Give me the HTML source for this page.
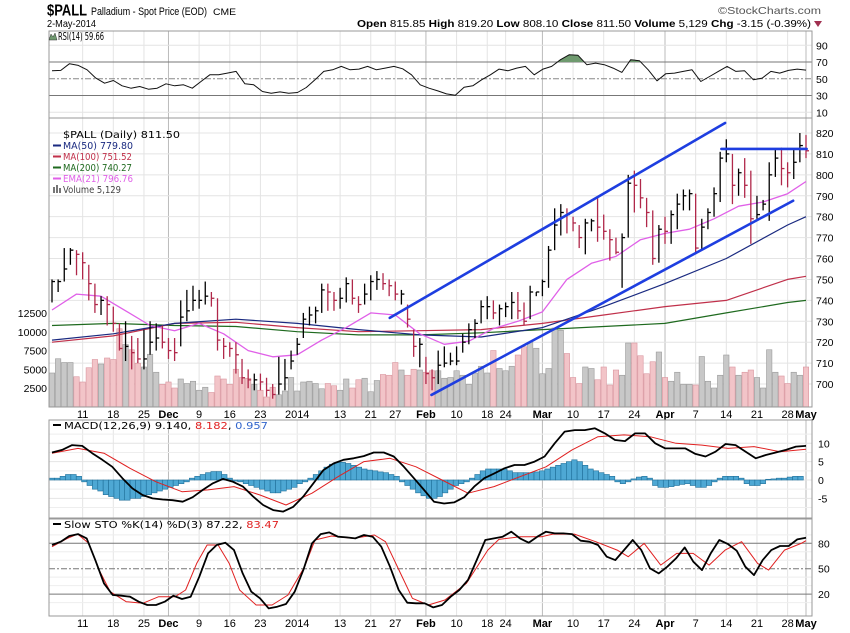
<!DOCTYPE html>
<html><head><meta charset="utf-8"><style>
html,body{margin:0;padding:0;background:#fff;}
svg{display:block;font-family:"Liberation Sans",sans-serif;}
</style></head><body>
<svg id="chart" width="850" height="633" viewBox="0 0 850 633" xmlns="http://www.w3.org/2000/svg">
<g>
<text x="47" y="15.5" font-size="15.5" font-weight="bold" textLength="40" lengthAdjust="spacingAndGlyphs">$PALL</text>
<text x="91" y="15" font-size="11" textLength="116" lengthAdjust="spacingAndGlyphs">Palladium - Spot Price (EOD)</text>
<text x="213" y="15" font-size="9" textLength="23" lengthAdjust="spacingAndGlyphs">CME</text>
<text x="47" y="27" font-size="10.5" textLength="49" lengthAdjust="spacingAndGlyphs">2-May-2014</text>
<text x="718" y="14" font-size="10.5" fill="#555" textLength="103" lengthAdjust="spacingAndGlyphs">©StockCharts.com</text>
<text x="357" y="27" font-size="10.5" textLength="454" lengthAdjust="spacingAndGlyphs"><tspan font-weight="bold">Open</tspan> 815.85 <tspan font-weight="bold">High</tspan> 819.20 <tspan font-weight="bold">Low</tspan> 808.10 <tspan font-weight="bold">Close</tspan> 811.50 <tspan font-weight="bold">Volume</tspan> 5,129 <tspan font-weight="bold">Chg</tspan> -3.15 (-0.39%)</text>
<path d="M814 21 L822 21 L818 27 Z" fill="#a03050"/>
</g>
<g id="layer"></g>
</svg>
<script>
// ---- data ----
const hi = [750,750,765,765,764,763,757,748,742,742,737,729,730,723,722,726,730,729,728,
722,722,740,745,747,745,749,744,741,722,720,720,712,707,705,705,703,700,713,712,716,
722,734,737,737,748,748,744,746,751,750,742,748,752,754,753,750,749,745,738,726,722,713,
707,716,718,715,718,724,729,731,740,742,740,738,739,744,744,739,747,744,750,766,784,786,784,780,776,779,779,789,781,774,770,772,800,802,798,789,783,776,780,783,791,793,793,791,779,784,794,811,817,810,803,808,802,790,788,806,812,813,806,812,820,819];
const lo = [739,744,749,757,752,750,740,734,733,728,725,716,711,707,710,707,714,716,717,
712,711,718,730,735,736,738,737,716,712,713,705,700,698,697,697,694,693,695,697,707,
714,722,728,729,734,735,735,736,739,738,734,738,740,745,745,742,740,738,727,713,708,700,
697,700,708,709,709,715,719,722,729,731,731,728,732,731,731,728,731,742,742,746,764,771,772,773,765,762,773,768,769,759,762,746,770,782,784,775,757,758,767,767,774,783,783,762,764,774,780,787,806,786,790,789,767,779,783,778,799,795,794,798,806,808];
const cl = [749,749,755,764,762,758,748,738,740,738,729,717,718,715,712,712,720,722,720,
716,715,732,735,740,740,742,741,721,718,717,714,703,702,702,701,697,695,700,703,711,
719,731,733,735,745,744,740,741,748,741,738,743,749,750,748,747,743,743,731,718,719,705,
703,709,710,711,711,720,726,729,737,737,734,736,737,739,735,730,744,744,749,764,776,782,781,777,770,777,778,775,773,769,763,770,796,795,789,782,760,774,773,781,786,790,791,765,775,782,791,808,810,795,801,795,779,781,786,800,808,803,801,806,814,811.5];
const vol = [4.5,6.4,5.9,5.9,4.0,3.3,5.2,6.3,5.7,6.5,6.3,10.4,8.3,7.6,5.8,5.3,7.0,4.6,3.0,3.3,
2.5,3.7,3.1,3.4,2.2,2.6,1.9,4.1,3.7,3.0,5.0,3.9,3.8,3.0,2.2,1.3,2.6,1.6,2.1,3.9,
2.1,3.3,3.4,3.1,2.4,3.1,2.8,2.2,3.7,2.5,3.6,3.8,2.0,3.5,4.3,4.2,5.9,4.9,4.2,5.0,4.9,4.6,
4.8,4.8,3.8,3.9,4.8,4.2,3.0,4.5,5.4,4.5,7.5,5.1,4.8,5.4,6.9,8.0,8.6,7.8,4.4,5.1,
10.5,10.2,7.1,3.9,3.1,5.3,5.1,3.6,5.3,2.9,4.9,4.2,8.5,8.5,6.8,4.4,6.0,7.3,3.9,3.4,
4.6,3.0,3.0,2.9,6.7,3.4,2.5,4.2,6.9,5.3,4.2,4.6,4.9,3.9,2.5,7.6,4.6,4.1,3.1,4.6,4.2,5.3];
const maIdx = [0,10,20,30,40,50,60,70,80,90,100,110,120,123];
const ma50 = [721,724,729,731,729,726,723.5,722.5,727,737,748,760,776,780];
const ma100 = [720,723,729,729.5,727,725,725.5,726,729,733,737,740,750,751.5];
const ma200 = [728,729,728,727.5,725,723.5,723.5,724.5,726,727.5,729,734,739,740];
const emaIdx = [0,4,8,12,16,20,24,28,32,36,40,44,48,52,56,60,64,68,72,76,80,84,88,92,96,100,104,108,112,116,120,123];
const ema21 = [735.4,743,742,735,728,725.5,729,724,716,713,714,721,727,734,733,724,719,720.5,726.5,730,734.5,750,757.7,761,769,772,774,779,785,787,791,796.8];
const rsi = [59.6,60,68,66,60.8,50.8,44.8,48,41.6,38.8,40.8,37.6,38.8,44,41.6,42.8,38.8,46.8,54.8,54.8,56.8,58.8,44,42.8,34.8,32.8,34.4,32.8,33.6,39.6,48.8,58.8,60.8,64.8,60.8,61.6,64.8,60.8,62.8,64.8,62,54.8,42.8,38.8,35.6,32,30.4,40,41.6,48.8,54.8,61.6,59.6,62.8,64.8,54.8,61.6,64.8,72.8,78.8,78,66.8,68.8,66.8,62.8,57.6,72.8,71.6,60.8,47.6,56,56.8,58.8,60.8,46.8,52.8,58.8,64.8,58.8,59.6,48.8,50.8,58.8,56.8,60,61.6,60.4];
const macd = [7.5,8.2,9.5,9.3,7.3,5.5,3.6,0.5,-2.3,-4.1,-5,-5.3,-5.5,-5.9,-4.7,-2.7,-0.9,0.3,-0.5,-1.8,-4.5,-6.8,-8.2,-8.6,-7.3,-4.5,-0.9,2.7,4.5,5.5,5.9,6.5,7.5,7.5,6.4,3.6,0.5,-2.7,-5.9,-6.4,-6.1,-4.7,-1.8,0.5,1.8,3.2,4.1,4.1,5,6.4,10,13.2,13.6,13.6,14.1,12.7,10.9,10.6,12.7,12.7,10,8.6,8.6,8.6,7.1,6.4,7.7,9.8,9.5,7.7,5.9,6.8,7.5,8.2,9.1,9.3];
const signal = [7.3,8.6,7.3,3.2,-0.5,-3.2,-2.7,-1.8,-4.1,-6.8,-3.6,0.9,5,5.9,3.6,0,-3.6,-1.8,0.9,3.6,8.2,11.8,12.3,11.8,10,9.5,8.6,9.1,7.7,8.4];
const hist = [0.5,0.5,1,1.5,1.5,1,
-0.5,-1.5,-2.5,-3,-4,-4.5,-5,-5.5,-5.5,-5,-5,
-4.5,-4,-3.5,-3,-2.5,-2,-1.5,-1,-0.5,
0.5,1,1.5,2,2.3,2.3,1.5,0.5,
-0.3,-0.5,-1,-1.5,-2,-2.5,-3,-3.5,-3.5,-3,-2.5,-2,-1,-0.5,
0.5,1.5,2.5,3.5,4.3,4.8,4.8,4.5,4,3.5,3,2.7,2.5,2.2,2,1.5,1,
-0.5,-1.5,-2.5,-3.5,-4.3,-5,-5,-4.5,-3.5,-2.5,-1.5,-1,-0.5,
0.5,1.5,2.5,3,3,3,3,2.5,2,2,2,2,2.2,2.5,3,3.5,4,4.5,5,5.5,5,4,3,2.5,2,1.5,1,
-0.5,-1,-0.5,0.3,0.8,1,0.5,
-1.5,-2,-2,-1.8,-1.5,-1.2,-1,-1.5,-2,-2,-1.5,-0.5,
0.5,1,1,1,0.5,-1,-1.5,-1.5,-1,
0.2,0.3,0.5,0.5,0.8,1,1];
const stoK = [78,81.9,88.6,90.9,85.8,60.2,32.7,18.9,18.1,16.9,11,7.1,7.1,11,18.1,14.2,16.9,40.6,68.1,78,80.7,72,44.5,22.8,15,3.1,5.1,8.3,22.8,48.4,79.9,90.9,92.9,87.8,87,85.8,89.8,87.8,76,52.4,24.8,9.8,9.1,9.1,4.3,7.1,16.9,24.8,36.6,60.2,83.9,85.8,87.8,93.7,85.8,80.7,87.8,93.7,91.7,91.7,90.9,83.1,81.9,78,64.2,60.2,72,83.9,72,50.4,44.5,52.4,62.2,75.2,58.3,48.4,68.1,83.9,79.1,71.3,52.4,42.5,60.2,72,76.8,76.8,84.6,86.6];
const stoD = [76,85.8,90.9,79.9,48.4,22.8,11,9.1,16.9,16.9,24.8,56.3,78,78,56.3,24.8,7.1,7.1,18.9,52.4,83.9,88.6,85.8,89.8,81.9,48.4,15,7.1,13,32.7,72,84.6,87.8,87.8,90.9,90.9,81.9,72,64.2,79.9,54.3,68.1,68.1,54.3,72,81.9,56.3,48.4,72,79.9,83.1];
// trading-day index of each %D reading
const stoDDay = [0,2.5,4.2,6,7.7,9.5,12.1,14.8,17.4,20.1,21.8,23.6,25.3,27.1,28.9,30.6,33.3,35.9,38.5,41.2,42.9,45.6,49.1,52.6,54.4,56.6,58.8,61.4,64.1,67.6,71.1,72.9,76.4,79.9,81.7,85.2,88.7,92.2,94,96.6,99.3,101.9,104.6,107.2,109.8,112.5,115.1,116.9,119.5,122.2,123];
const dateIdx = [5,10,15,19,24,29,34,40,47,52,56,61,66,71,74,80,85,90,95,100,105,110,115,120,123];
const dateLabels = ["11","18","25","Dec","9","16","23","2014","13","21","27","Feb","10","18","24","Mar","10","17","24","Apr","7","14","21","28","May"];
const priceTicks = [700,710,720,730,740,750,760,770,780,790,800,810,820];
const volTicks = [2500,5000,7500,10000,12500];
const rsiTicks = [10,30,50,70,90];
const macdTicks = [-5,0,5,10];
const stoTicks = [20,50,80];
// trendline annotations in (bar index, price)
const upperLine = [[55.1,731.6],[109.8,824.8]];
const lowerLine = [[61.9,694.8],[120.9,787.6]];
const resistLine = [[109.2,812.4],[123.1,812.4]];

// ---- scales ----
const L=49, R=812, N=cl.length;
const X = i => 52 + i*(806-52)/(N-1);
const XE = (k,n) => 52 + k*(806-52)/(n-1);
const yP = p => 133 + (820-p)*2.092;
const yV = v => 406.75 - v*7.5;
const yR = v => 78.8 - (v-50)*0.8375;
const yM = v => 480 - v*3.67;
const yS = v => 568.7 - (v-50)*0.847;
const NS="http://www.w3.org/2000/svg";
const layer=document.getElementById('layer');
function mk(tag, attrs, parent){const e=document.createElementNS(NS,tag);for(const k in attrs)e.setAttribute(k,attrs[k]);(parent||layer).appendChild(e);return e;}
function txt(x,y,s,attrs,parent){const t=mk('text',Object.assign({x:x,y:y,'font-size':10},attrs||{}),parent);t.textContent=s;return t;}
const isMonth = s => isNaN(+s);

const panels=[["rsi-panel",31,118],["price-panel",118,407],["macd-panel",420,518],["sto-panel",519,616]];
panels.forEach(([nm,t,b])=>{
  const g=mk('rect',{x:L,y:t,width:R-L,height:b-t,fill:'#fff',stroke:'none'});
  
  
  dateIdx.forEach((d,k)=>{
    const ln=mk('line',{x1:X(d),x2:X(d),y1:t,y2:b,stroke:isMonth(dateLabels[k])?'#bbb':'#e4e4e4','stroke-width':1});
    
    
  });
});
priceTicks.forEach(p=>{
  const ln=mk('line',{x1:L,x2:R,y1:yP(p),y2:yP(p),stroke:'#e4e4e4'});
  
  
  const t=txt(816,yP(p)+4,String(p),{'font-size':10.5});
  
  
});
volTicks.forEach(v=>{
  const t=txt(47,yV(v/1000)+4,String(v),{'font-size':10.5,'text-anchor':'end'});
  
  
});
rsiTicks.forEach(v=>{
  const solid=(v===70||v===30), mid=(v===50);
  const ln=mk('line',{x1:L,x2:R,y1:yR(v),y2:yR(v),stroke:solid?'#777':(mid?'#888':'#e4e4e4'),'stroke-dasharray':mid?'6,2,2,2':'none'});
  
  
  const t=txt(816,yR(v)+4,String(v),{'font-size':10.5});
  
  
});
[-7.5,-2.5,2.5,7.5,12.5].forEach(v=>{
  const ln=mk('line',{x1:L,x2:R,y1:yM(v),y2:yM(v),stroke:'#eee'});
  
  
});
macdTicks.forEach(v=>{
  const ln=mk('line',{x1:L,x2:R,y1:yM(v),y2:yM(v),stroke:'#e4e4e4'});
  
  
  const t=txt(818,yM(v)+4,String(v),{'font-size':10.5});
  
  
});
[10,30,40,60,70,90].forEach(v=>{
  const ln=mk('line',{x1:L,x2:R,y1:yS(v),y2:yS(v),stroke:'#eee'});
  
  
});
stoTicks.forEach(v=>{
  const mid=v===50;
  const ln=mk('line',{x1:L,x2:R,y1:yS(v),y2:yS(v),stroke:'#777','stroke-dasharray':mid?'6,2,2,2':'none'});
  
  
  const t=txt(818,yS(v)+4,String(v),{'font-size':10.5});
  
  
});
[418,627].forEach((yy,row)=>{
  dateIdx.forEach((d,k)=>{
    const s=dateLabels[k];
    const t=txt(X(d),yy,s,{'font-size':11,'text-anchor':'middle','font-weight':isMonth(s)?'bold':'normal'});
    
    
  });
});

vol.forEach((v,i)=>{
  const down = i>0 && cl[i]<cl[i-1];
  const r=mk('rect',{x:X(i)-2.7,y:yV(v),width:5.4,height:yV(0)-yV(v),fill:down?'#f2c4c8':'#c8c8c8',stroke:down?'#d9959e':'#9a9a9a','stroke-width':0.6});
  
  
});
function poly(xs,ys,color,w,name){
  const p=mk('polyline',{points:xs.map((x,k)=>x.toFixed(1)+','+ys[k].toFixed(1)).join(' '),fill:'none',stroke:color,'stroke-width':w,'stroke-linejoin':'round'});
  
  
  return p;
}
poly(maIdx.map(X),ma200.map(yP),'#1f6a1f',1.2,'ma200-line');
poly(maIdx.map(X),ma100.map(yP),'#c0304a',1.2,'ma100-line');
poly(maIdx.map(X),ma50.map(yP),'#1a2a80',1.2,'ma50-line');
poly(emaIdx.map(X),ema21.map(yP),'#e060e8',1.3,'ema21-line');
cl.forEach((c,i)=>{
  const down = i>0 && c<cl[i-1];
  const col = down?'#b0284a':'#000';
  const g=mk('g',{stroke:col,'stroke-width':1.3});
  
  
  mk('line',{x1:X(i),x2:X(i),y1:yP(hi[i]),y2:yP(lo[i])},g);
  mk('line',{x1:X(i),x2:X(i)+3,y1:yP(c),y2:yP(c)},g);
});
[[upperLine,'upper-channel-line'],[lowerLine,'lower-channel-line'],[resistLine,'resistance-line']].forEach(([ln,nm])=>{
  const l=mk('line',{x1:X(ln[0][0]),y1:yP(ln[0][1]),x2:X(ln[1][0]),y2:yP(ln[1][1]),stroke:'#1e3ee0','stroke-width':2.6,'stroke-linecap':'round'});
  
  
});
const defs=mk('defs',{});
const cp=mk('clipPath',{id:'ob'},defs);
mk('rect',{x:L,y:31,width:R-L,height:yR(70)-31},cp);
const rsiX=rsi.map((v,k)=>XE(k,rsi.length)), rsiY=rsi.map(yR);
const area=mk('polygon',{points:rsiX.map((x,k)=>x.toFixed(1)+','+rsiY[k].toFixed(1)).join(' ')+' '+R+','+yR(70)+' '+L+','+yR(70),fill:'#6f9a6f',stroke:'none','clip-path':'url(#ob)'});


poly(rsiX,rsiY,'#111',1,'rsi-line');
const hw=(806-52)/hist.length;
hist.forEach((v,k)=>{
  const x=52+k*hw-hw/2;
  const r=mk('rect',{x:x,y:Math.min(yM(v),yM(0)),width:hw,height:Math.abs(yM(v)-yM(0)),fill:'#4ea8d4',stroke:'#1f6f99','stroke-width':0.6});
  
  
});
poly(signal.map((v,k)=>XE(k,signal.length)),signal.map(yM),'#e02020',1,'macd-signal-line');
poly(macd.map((v,k)=>XE(k,macd.length)),macd.map(yM),'#000',1.8,'macd-line');
poly(stoDDay.map(X),stoD.map(yS),'#e02020',1,'sto-d-line');
poly(stoK.map((v,k)=>XE(k,stoK.length)),stoK.map(yS),'#000',1.8,'sto-k-line');

panels.forEach(([nm,t,b])=>{
  const r=mk('rect',{x:L,y:t,width:R-L,height:b-t,fill:'none',stroke:'#999'});
  
  
});

const lf={'font-family':'"DejaVu Sans",sans-serif','font-size':9.5};
function legend(x,y,s,color,w,name){
  const t=txt(x,y,s,Object.assign({fill:color,textLength:w,lengthAdjust:'spacingAndGlyphs'},lf));
  
  
  return t;
}
const ri=mk('path',{d:'M49 40 L51 34 L53 37 L55 33 L57 40 Z',fill:'#6f9a6f',stroke:'#333','stroke-width':0.5});


const rl=legend(58,40,'RSI(14) 59.66','#000',46,'rsi-legend');
rl.setAttribute('font-size','10.5');
legend(63,138,'$PALL (Daily) 811.50','#000',117,'price-legend');
[['MA(50) 779.80','#1a2a80',70,'ma50-legend',149],['MA(100) 751.52','#c0304a',69,'ma100-legend',160],['MA(200) 740.27','#1f6a1f',69,'ma200-legend',171],['EMA(21) 796.76','#e060e8',70,'ema21-legend',182]].forEach(([s,c,w,n,y])=>{
  const ln=mk('line',{x1:53,x2:61,y1:y-3.5,y2:y-3.5,stroke:c,'stroke-width':2});
  
  
  legend(63,y,s,c,w,n);
});
const vi=mk('path',{d:'M53 193 V187 H55 V193 M56 193 V185 H58 V193 M59 193 V188 H61 V193',fill:'#777'});


legend(63,193,'Volume 5,129','#444',58,'volume-legend');
const ml=mk('line',{x1:53,x2:61,y1:425,y2:425,stroke:'#000','stroke-width':2});


const mt=txt(64,429,'',Object.assign({textLength:204,lengthAdjust:'spacingAndGlyphs'},lf));
mt.innerHTML='MACD(12,26,9) 9.140, <tspan fill="#e02020">8.182</tspan>, <tspan fill="#3366cc">0.957</tspan>';


const sl=mk('line',{x1:53,x2:61,y1:524,y2:524,stroke:'#000','stroke-width':2});


const st=txt(64,528,'',Object.assign({textLength:215,lengthAdjust:'spacingAndGlyphs'},lf));
st.innerHTML='Slow STO %K(14) %D(3) 87.22, <tspan fill="#e02020">83.47</tspan>';


</script>
</body></html>
